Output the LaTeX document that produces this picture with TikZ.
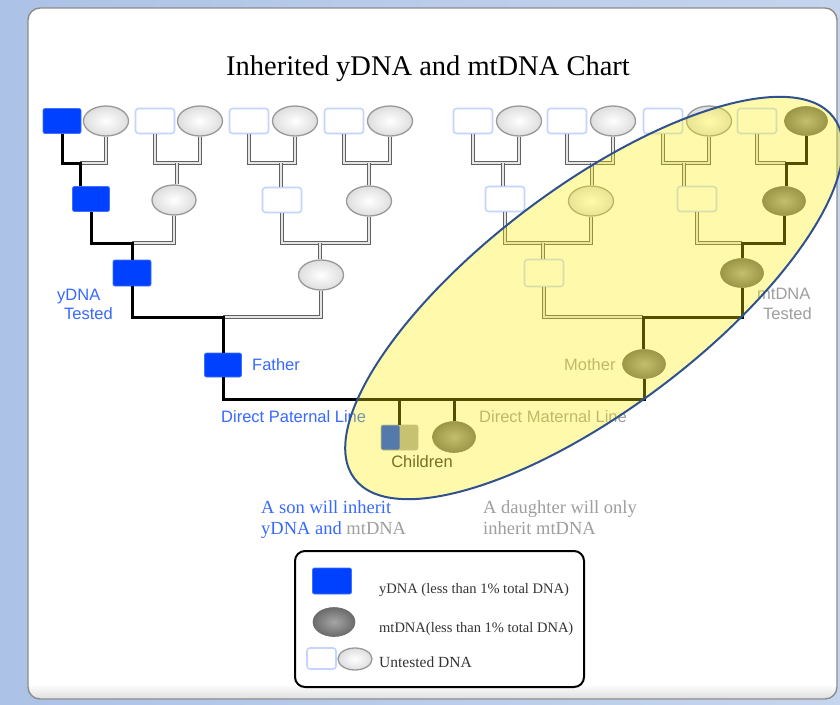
\documentclass[tikz,border=0pt]{standalone}
\usepackage{fontspec}
\setmainfont{Liberation Serif}
\newfontfamily\lsans{Liberation Sans}
\usetikzlibrary{shapes.geometric,calc}
\definecolor{bgL}{RGB}{172,194,230}
\definecolor{bgR}{RGB}{198,213,238}
\definecolor{ybl}{RGB}{0,64,255}
\definecolor{lblue}{RGB}{55,105,255}
\definecolor{usqb}{RGB}{196,212,255}
\definecolor{txtgray}{RGB}{158,158,158}
\definecolor{ellb}{RGB}{47,82,143}
\tikzset{
 ysq/.style={rectangle, rounded corners=2pt, fill=ybl, draw=ybl!75!white, line width=0.8pt, minimum width=38pt, minimum height=25pt, inner sep=0pt},
 usq/.style={rectangle, rounded corners=3pt, fill=white, draw=usqb, line width=1.6pt, minimum width=39pt, minimum height=25pt, inner sep=0pt},
 uel/.style={ellipse, inner color=white, outer color=black!13, draw=black!40, line width=1.3pt, minimum width=45pt, minimum height=30pt, inner sep=0pt},
 mel/.style={ellipse, inner color=black!35, outer color=black!58, draw=black!58, line width=0.6pt, minimum width=43pt, minimum height=29pt, inner sep=0pt},
 dline/.style={line width=3pt, draw=black, line join=miter},
 uline/.style={draw=black!62, line width=1.1pt, double=black!10, double distance=1.5pt},
 lab/.style={font=\lsans\fontsize{16.5}{19}\selectfont, inner sep=0pt, anchor=base west},
 btxt/.style={font=\fontsize{18.5}{21}\selectfont, inner sep=0pt, anchor=base west},
 legt/.style={font=\fontsize{14.5}{17}\selectfont, inner sep=0pt, anchor=base west, text=black!80},
}
\begin{document}
\begin{tikzpicture}[x=1pt,y=-1pt]
\useasboundingbox (0,0) rectangle (840,704);
% background and card
\shade[left color=bgL, right color=bgR] (0,0) rectangle (840,704);
\fill[white, rounded corners=12pt] (28,8) rectangle (837,699);
\begin{scope}
\clip[rounded corners=12pt] (28,8) rectangle (837,699);
\shade[top color=white, bottom color=black!13] (28,684) rectangle (837,699);
\end{scope}
\draw[black!45, line width=1.4pt, rounded corners=12pt] (28,8) rectangle (837,699);

% title
\node[font=\fontsize{28.5}{32}\selectfont, anchor=base, inner sep=0pt] (title) at (428,75) {Inherited yDNA and mtDNA Chart};

% generation 4
\node[ysq] (a1) at (62,121) {};
\node[uel] (b1) at (106,121) {};
\node[usq] (a2) at (155,121) {};
\node[uel] (b2) at (200,121) {};
\node[usq] (a3) at (249,121) {};
\node[uel] (b3) at (295,121) {};
\node[usq] (a4) at (344,121) {};
\node[uel] (b4) at (390,121) {};
\node[usq] (a5) at (473,121) {};
\node[uel] (b5) at (519,121) {};
\node[usq] (a6) at (567,121) {};
\node[uel] (b6) at (613,121) {};
\node[usq] (a7) at (663,121) {};
\node[uel] (b7) at (709,121) {};
\node[usq] (a8) at (757,121) {};
\node[mel] (b8) at (806,121) {};

% generation 3
\node[ysq, minimum width=37pt] (c1) at (91,199) {};
\node[uel, minimum width=44pt] (c2) at (174,200) {};
\node[usq] (c3) at (282,200) {};
\node[uel] (c4) at (369,201) {};
\node[usq] (c5) at (505,199) {};
\node[uel] (c6) at (591,201) {};
\node[usq] (c7) at (697,199) {};
\node[mel] (c8) at (784,201) {};

% generation 2
\node[ysq, minimum height=26pt] (d1) at (132,273) {};
\node[uel] (d2) at (321,275) {};
\node[usq, minimum height=27pt] (d3) at (544,273) {};
\node[mel] (d4) at (742,273) {};

% parents
\node[ysq, minimum width=37pt, minimum height=24pt] (father) at (223,365) {};
\node[mel] (mother) at (644,364) {};

% children
\node[rectangle, minimum width=37pt, minimum height=25pt, inner sep=0pt, rounded corners=2pt, fill=black!33, draw=black!30, line width=0.6pt,
  path picture={\fill[ybl] (path picture bounding box.north west) rectangle (path picture bounding box.south);}] (son) at (399.5,437.5) {};
\node[mel, minimum height=31pt] (dau) at (454,437) {};

% junctions
\coordinate (j1) at (80,163);
\coordinate (j2) at (177,163);
\coordinate (j3) at (281,163);
\coordinate (j4) at (369,163);
\coordinate (j5) at (503,163);
\coordinate (j6) at (592,163);
\coordinate (j7) at (684,163);
\coordinate (j8) at (786,163);
\coordinate (k1) at (132,243);
\coordinate (k2) at (320,243);
\coordinate (k3) at (543,243);
\coordinate (k4) at (742,243);
\coordinate (m1) at (223,317);
\coordinate (m2) at (643,317);
\coordinate (cb) at (644,399);

% connectors gen4 -> gen3
\draw[uline] (j1) -| (b1.south);
\draw[dline] (a1.south) |- (j1) -- (j1 |- c1.north);
\draw[uline] (a2.south) |- (j2) -| (b2.south);
\draw[uline] (j2) -- (j2 |- c2.north);
\draw[uline] (a3.south) |- (j3) -| (b3.south);
\draw[uline] (j3) -- (j3 |- c3.north);
\draw[uline] (a4.south) |- (j4) -| (b4.south);
\draw[uline] (j4) -- (j4 |- c4.north);
\draw[uline] (a5.south) |- (j5) -| (b5.south);
\draw[uline] (j5) -- (j5 |- c5.north);
\draw[uline] (a6.south) |- (j6) -| (b6.south);
\draw[uline] (j6) -- (j6 |- c6.north);
\draw[uline] (a7.south) |- (j7) -| (b7.south);
\draw[uline] (j7) -- (j7 |- c7.north);
\draw[uline] (a8.south) |- (j8);
\draw[dline] (b8.south) |- (j8) -- (j8 |- c8.north);

% gen3 -> gen2
\draw[uline] (k1) -| (c2.south);
\draw[dline] (c1.south) |- (k1) -- (k1 |- d1.north);
\draw[uline] (c3.south) |- (k2) -| (c4.south);
\draw[uline] (k2) -- (k2 |- d2.north);
\draw[uline] (c5.south) |- (k3) -| (c6.south);
\draw[uline] (k3) -- (k3 |- d3.north);
\draw[uline] (c7.south) |- (k4);
\draw[dline] (c8.south) |- (k4) -- (k4 |- d4.north);

% gen2 -> parents
\draw[uline] (m1) -| (d2.south);
\draw[dline] (d1.south) |- (m1) -- (m1 |- father.north);
\draw[uline] (d3.south) |- (m2);
\draw[dline] (d4.south) |- (m2) -- (m2 |- mother.north);

% parents -> children
\draw[dline] (father.south) |- (cb) -- (mother.south);
\draw[dline] (son.north |- cb) -- (son.north);
\draw[dline] (dau.north |- cb) -- (dau.north);

% labels
\node[lab, text=lblue] (ylab1) at (57,300) {yDNA};
\node[lab, text=lblue] (ylab2) at (64,319) {Tested};
\node[lab, text=txtgray] (mlab1) at (757,299) {mtDNA};
\node[lab, text=txtgray] (mlab2) at (763,319) {Tested};
\node[lab, text=lblue] (flab) at (252,370) {Father};
\node[lab, text=txtgray] (molab) at (564,370) {Mother};
\node[lab, text=lblue] (plab) at (221,422) {Direct Paternal Line};
\node[lab, text=txtgray] (mmlab) at (479,422) {Direct Maternal Line};
\node[lab, anchor=base, text=black!80] (chlab) at (422,467) {Children};

% highlight ellipse
\draw[ellb, line width=2pt, fill=yellow, fill opacity=0.33, draw opacity=1, shift={(594,298)}, rotate=37] (0,0) ellipse [x radius=300, y radius=111];

% bottom texts
\node[btxt, text=lblue] (son1) at (261,513) {A son will inherit};
\node[btxt, text=lblue] (son2) at (261,534) {yDNA and \textcolor{txtgray}{mtDNA}};
\node[btxt, text=txtgray] (dau1) at (483,513) {A daughter will only};
\node[btxt, text=txtgray] (dau2) at (483,534) {inherit mtDNA};

% legend
\draw[black, line width=2pt, rounded corners=10pt] (295,551) rectangle (584,687);
\node[ysq, minimum width=39pt, minimum height=26pt] (lsq) at (332,581) {};
\node[mel, minimum width=42pt, minimum height=29pt] (lel) at (334,622) {};
\node[usq, minimum width=29pt, minimum height=21pt] (lusq) at (321.5,658.5) {};
\node[uel, minimum width=34pt, minimum height=22pt] (luel) at (355,659) {};
\node[legt] (lt1) at (379,593) {yDNA (less than 1\% total DNA)};
\node[legt] (lt2) at (379,632) {mtDNA(less than 1\% total DNA)};
\node[legt, font=\fontsize{15.5}{18}\selectfont] (lt3) at (379,667) {Untested DNA};
\end{tikzpicture}
\end{document}
